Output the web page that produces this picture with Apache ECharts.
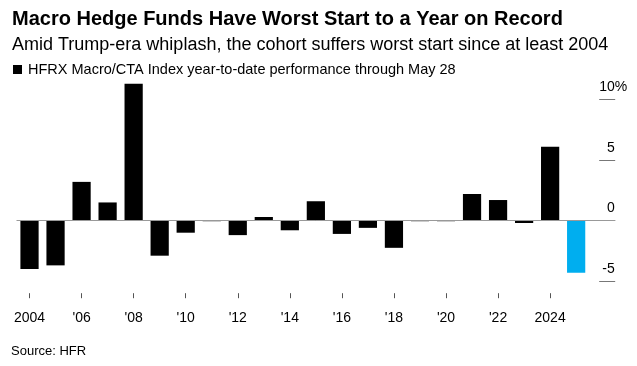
<!DOCTYPE html>
<html>
<head>
<meta charset="utf-8">
<style>html,body{margin:0;padding:0;background:#fff;}#c{width:637px;height:366px;}</style>
<script src="https://cdn.jsdelivr.net/npm/echarts@6/dist/echarts.min.js"></script>
</head>
<body>
<div id="c"></div>
<script>
var years = ['2004','2005','2006','2007','2008','2009','2010','2011','2012','2013','2014','2015','2016','2017','2018','2019','2020','2021','2022','2023','2024','2025'];
var values = [-4.0,-3.7,3.2,1.5,11.3,-2.9,-1.0,-0.05,-1.2,0.3,-0.8,1.6,-1.1,-0.6,-2.25,-0.05,-0.05,2.2,1.7,-0.2,6.1,-4.3];
var highlightYear = '2025';
var yTicks = [-5, 0, 5, 10];
var seriesName = 'HFRX Macro/CTA Index year-to-date performance through May 28';

var FONT = '"Liberation Sans", Arial, sans-serif';
var chart = echarts.init(document.getElementById('c'), null, {renderer: 'canvas'});
var data = values.map(function (v, i) {
  return years[i] === highlightYear ? {value: v, itemStyle: {color: '#00AEEF'}} : v;
});
function showIdx(i) { return i % 2 === 0 && i < years.length; }
chart.setOption({
  animation: false,
  textStyle: {fontFamily: FONT},
  title: [
    {text: 'Macro Hedge Funds Have Worst Start to a Year on Record', left: 7, top: 4,
     textStyle: {fontFamily: FONT, fontSize: 20, fontWeight: 'bold', color: '#000'}},
    {text: 'Amid Trump-era whiplash, the cohort suffers worst start since at least 2004', left: 7, top: 31,
     textStyle: {fontFamily: FONT, fontSize: 18, fontWeight: 'normal', color: '#000'}},
    {text: 'Source: HFR', left: 6, top: 340,
     textStyle: {fontFamily: FONT, fontSize: 13, fontWeight: 'normal', color: '#000'}}
  ],
  legend: {
    left: 13, top: 62, icon: 'rect', itemWidth: 9, itemHeight: 9, itemGap: 6, padding: 0,
    textStyle: {fontFamily: FONT, fontSize: 14.5, color: '#000', padding: [0,0,0,1]},
    data: [{name: seriesName, itemStyle: {color: '#000'}}]
  },
  grid: {left: 16.5, right: 21.8, top: 75.4, bottom: 72.8, containLabel: false},
  xAxis: {
    type: 'category', data: years, max: years.length,
    boundaryGap: true,
    axisLine: {show: false, onZero: false},
    axisTick: {show: true, alignWithLabel: true, length: 5, interval: function (i) { return showIdx(i); },
      lineStyle: {color: '#555'}},
    axisLabel: {
      interval: function (i) { return showIdx(i); },
      margin: 18, fontFamily: FONT, fontSize: 14, color: '#000',
      formatter: function (v) {
        if (!v) return '';
        if (v === '2004' || v === '2024') return v;
        return "'" + v.slice(2);
      }
    },
    splitLine: {show: false}
  },
  yAxis: {
    type: 'value', position: 'right', min: -6, max: 12,
    axisLine: {show: false},
    splitLine: {show: false},
    axisTick: {show: true, inside: true, length: 16, customValues: yTicks,
      lineStyle: {color: '#777'}},
    axisLabel: {
      inside: true, margin: -12, align: 'right', verticalAlign: 'bottom',
      customValues: yTicks,
      fontFamily: FONT, fontSize: 14, color: '#000', padding: [0,0,5,0],
      formatter: function (v) { return v === 10 ? '{n|10}{p|%}' : '{n|' + v + '}{h|%}'; },
      rich: {
        n: {fontFamily: FONT, fontSize: 14, color: '#000'},
        p: {fontFamily: FONT, fontSize: 14, color: '#000'},
        h: {fontFamily: FONT, fontSize: 14, color: 'rgba(0,0,0,0)'}
      }
    }
  },
  series: [{
    name: seriesName, type: 'bar', data: data, barCategoryGap: '30%',
    itemStyle: {color: '#000'},
    markLine: {
      silent: true, symbol: 'none', label: {show: false},
      lineStyle: {color: '#999', width: 1, type: 'solid'},
      data: [{yAxis: 0}]
    }
  }]
});
</script>
</body>
</html>
